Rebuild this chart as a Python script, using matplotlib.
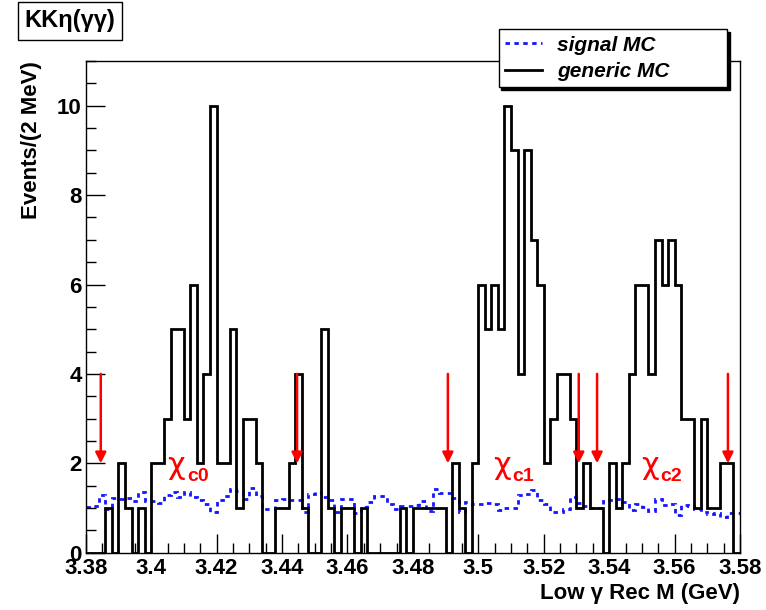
import numpy as np
import matplotlib
matplotlib.use("Agg")
import matplotlib.pyplot as plt
from matplotlib.lines import Line2D
from matplotlib.ticker import MultipleLocator, FuncFormatter

# ---- data ----
x_lo, x_hi, n_bins = 3.38, 3.58, 100

generic_mc = [0, 0, 0, 1, 0, 2, 1, 0, 1, 0,
              2, 2, 3, 5, 5, 3, 6, 2, 4, 10,
              2, 2, 5, 1, 3, 3, 2, 0, 0, 1,
              1, 2, 4, 1, 0, 0, 5, 1, 0, 1,
              1, 0, 1, 0, 0, 0, 0, 0, 1, 0,
              1, 1, 1, 1, 1, 0, 2, 1, 0, 2,
              6, 5, 6, 5, 10, 9, 4, 9, 7, 6,
              2, 3, 4, 4, 3, 1, 2, 1, 1, 0,
              2, 1, 2, 4, 6, 6, 4, 7, 6, 7,
              6, 3, 3, 1, 3, 1, 1, 2, 2, 0]

signal_mc = [1.03, 1.05, 1.30, 0.98, 1.22, 1.20, 1.22, 1.15, 1.35, 1.15,
             1.15, 1.12, 1.30, 1.35, 1.25, 1.35, 1.25, 1.18, 1.10, 0.92,
             1.18, 1.27, 1.42, 1.38, 1.20, 1.45, 1.28, 0.97, 0.97, 1.18,
             1.20, 1.19, 1.18, 0.90, 1.32, 1.36, 1.25, 1.19, 0.90, 1.20,
             1.21, 0.88, 1.03, 1.14, 1.27, 1.27, 1.08, 0.97, 1.04, 1.04,
             1.06, 1.16, 0.94, 1.42, 1.34, 1.34, 1.22, 0.92, 1.14, 1.10,
             1.10, 1.12, 1.10, 0.95, 1.01, 0.99, 1.29, 1.31, 1.41, 1.19,
             1.10, 0.92, 0.90, 0.97, 1.24, 1.12, 1.05, 0.99, 1.01, 1.16,
             1.18, 1.20, 1.14, 0.95, 1.10, 1.03, 0.94, 1.21, 1.06, 1.10,
             0.84, 1.06, 1.04, 0.97, 0.92, 0.86, 0.88, 0.80, 0.88, 0.88]

arrow_x = [3.3846, 3.4446, 3.4907, 3.5307, 3.5363, 3.5763]
arrow_top, arrow_tip = 4.0, 2.0

chi_subs = ["c0", "c1", "c2"]
chi_x = [3.4050, 3.5045, 3.5498]
chi_y = 1.95

x_ticks = [3.38, 3.40, 3.42, 3.44, 3.46, 3.48, 3.50, 3.52, 3.54, 3.56, 3.58]
y_ticks = [0, 2, 4, 6, 8, 10]

legend_labels = ["signal MC", "generic MC"]
title_text = "KKη(γγ)"
xlabel = "Low γ Rec M (GeV)"
ylabel = "Events/(2 MeV)"

# ---- figure ----
plt.rcParams['font.family'] = ['Liberation Sans', 'DejaVu Sans']

fig = plt.figure(figsize=(7.66, 6.10), dpi=100)
ax = fig.add_axes([0.1119, 0.0939, 0.8542, 0.8061])

edges = np.linspace(x_lo, x_hi, n_bins + 1)
sig_ls = (0, (1.6, 1.6))
ax.stairs(signal_mc, edges, color='#1515ff', lw=2.0, linestyle=sig_ls, baseline=None)
ax.stairs(generic_mc, edges, color='black', lw=2.0, baseline=0)

for xa in arrow_x:
    ax.annotate("", xy=(xa, arrow_tip), xytext=(xa, arrow_top),
                arrowprops=dict(arrowstyle='-|>', color='#ff0000', lw=1.8,
                                mutation_scale=16, shrinkA=0, shrinkB=0))

for sub, xc in zip(chi_subs, chi_x):
    ax.text(xc, chi_y, "χ", color='#ff0000', fontsize=22, ha='left', va='center',
            family='DejaVu Sans')
    ax.annotate(sub, xy=(xc, chi_y), xytext=(14, -8), textcoords='offset points',
                color='#ff0000', fontsize=14, fontweight='bold', ha='left', va='center')

ax.set_xlim(x_lo, x_hi)
ax.set_ylim(0, 11)
ax.set_xticks(x_ticks)
ax.set_yticks(y_ticks)
ax.xaxis.set_minor_locator(MultipleLocator(0.005))
ax.yaxis.set_minor_locator(MultipleLocator(0.5))
ax.xaxis.set_major_formatter(FuncFormatter(lambda v, p: f"{v:.2f}".rstrip('0').rstrip('.')))
ax.tick_params(axis='both', which='both', direction='in', top=False, right=False, labelsize=16)
ax.tick_params(axis='both', which='major', length=14, width=1)
ax.tick_params(axis='both', which='minor', length=7, width=1)
ax.tick_params(axis='x', pad=4)
ax.tick_params(axis='y', pad=3)
for lbl in ax.get_xticklabels() + ax.get_yticklabels():
    lbl.set_fontweight('bold')
for sp in ax.spines.values():
    sp.set_linewidth(1.0)
    sp.set_color('black')

fig.text(0.966, 0.027, xlabel, fontsize=16, fontweight='bold', ha='right', va='center')
fig.text(0.041, 0.9, ylabel, fontsize=16, fontweight='bold', rotation=90,
         ha='center', va='top')

fig.text(0.0914, 0.9656, title_text, fontsize=17, fontweight='bold', ha='center', va='center',
         bbox=dict(boxstyle='square,pad=0.3', facecolor='white', edgecolor='black', lw=1.0))

handles = [Line2D([], [], color='#1515ff', lw=2.0, linestyle=sig_ls),
           Line2D([], [], color='black', lw=2.0)]
leg = fig.legend(handles, legend_labels, loc='upper left',
                 bbox_to_anchor=(0.651, 0.851, 0.298, 0.101), mode='expand',
                 frameon=True, fancybox=False, shadow={'color': 'black', 'alpha': 1.0},
                 edgecolor='black', framealpha=1.0,
                 prop={'weight': 'bold', 'style': 'italic', 'size': 15},
                 handlelength=1.8, handletextpad=0.7, borderpad=0.3, labelspacing=0.35,
                 borderaxespad=0)
leg.get_frame().set_linewidth(1.0)

fig.savefig("out.png", dpi=100)
